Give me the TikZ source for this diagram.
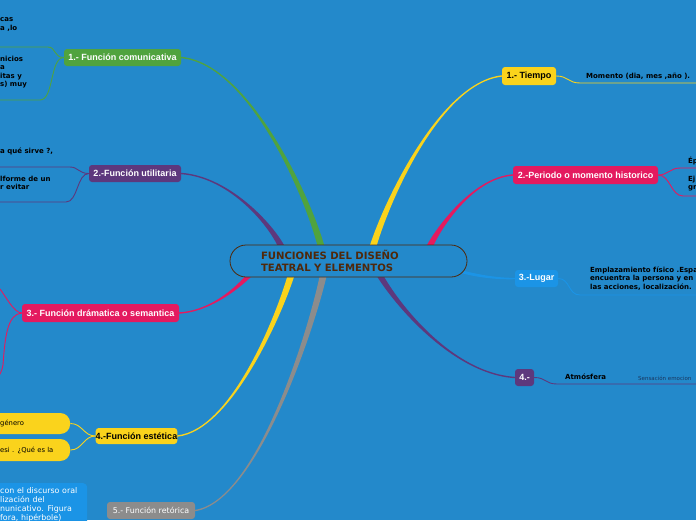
\documentclass[tikz,border=0pt]{standalone}
\usepackage{fontspec}
\setmainfont{DejaVu Sans}
\newfontfamily\lsans{Liberation Sans}
\usetikzlibrary{calc}
\definecolor{bg}{RGB}{35,137,203}
\definecolor{cgreen}{RGB}{80,163,62}
\definecolor{cpurple}{RGB}{93,56,125}
\definecolor{ccrimson}{RGB}{228,26,95}
\definecolor{cyellow}{RGB}{250,211,28}
\definecolor{cgray}{RGB}{140,140,140}
\definecolor{clblue}{RGB}{27,148,230}
\definecolor{cbrown}{RGB}{80,40,10}
\definecolor{cnavy}{RGB}{25,55,95}
\newcommand\taper[6]{\fill[#1] ($(#2)+(-3.5,0)$) .. controls ($(#3)+(-3,0)$) and ($(#4)+(0,#6)$) .. ($(#5)+(0,#6)$) -- ($(#5)-(0,#6)$) .. controls ($(#4)-(0,#6)$) and ($(#3)+(3,0)$) .. ($(#2)+(3.5,0)$) -- cycle;}
\begin{document}
\begin{tikzpicture}[x=1pt,y=-1pt,
  lab/.style={rounded corners=3pt, inner sep=0pt, font=\lsans\bfseries\fontsize{9}{11}\selectfont, text=white},
  ctext/.style={inner sep=0pt, font=\bfseries\fontsize{7}{8.6}\selectfont, align=left, text=black},
  conn/.style={line width=0.9pt},
  pill/.style={fill=cyellow, rounded corners=10pt, inner xsep=12pt, inner ysep=0pt, text width=58pt, align=left, anchor=west, font=\fontsize{6.8}{8}\selectfont, text=black},
]
\useasboundingbox (0,0) rectangle (696,520);
\fill[bg] (0,0) rectangle (696,520);

% main nodes
\node[lab, fill=cgreen, minimum width=117pt, minimum height=17pt] (n1) at (122.5,57.5) {1.- Función comunicativa};
\node[lab, fill=cpurple, minimum width=92pt, minimum height=17pt] (n2) at (135,173.5) {2.-Función utilitaria};
\node[lab, fill=ccrimson, minimum width=157pt, minimum height=18pt] (n3) at (100.5,313) {3.- Función drámatica o semantica};
\node[lab, fill=cyellow, text=black, minimum width=81pt, minimum height=16pt] (n4) at (136.5,436) {4.-Función estética};
\node[lab, fill=cgray, font=\fontsize{7.9}{9}\selectfont, minimum width=88pt, minimum height=17pt] (n5) at (151,510.5) {5.- Función retórica};
\node[lab, fill=cyellow, text=black, minimum width=54pt, minimum height=18pt] (r1) at (529,76) {1.- Tiempo};
\node[lab, fill=ccrimson, minimum width=145pt, minimum height=18pt] (r2) at (585.5,175) {2.-Periodo o momento historico};
\node[lab, fill=clblue, minimum width=43pt, minimum height=17pt] (r3) at (536.5,278.5) {3.-Lugar};
\node[lab, fill=cpurple, minimum width=19pt, minimum height=17pt] (r4) at (524.5,377.5) {4.-};

% children
\node[pill, minimum height=21pt] (p1) at (-12,423.5) {género};
\node[pill, minimum height=22pt] (p2) at (-12,450) {esi . ¿Qué es la};
\node[fill=clblue, rounded corners=4pt, anchor=north west, inner xsep=8pt, inner ysep=4pt, text width=79pt, align=left, text=white, font=\fontsize{7.9}{9}\selectfont] (b5) at (-8,483) {con el discurso oral\\lización del\\nunicativo. Figura\\fora, hipérbole)};

% free ends of child connectors
\coordinate (a1) at (48,47);   \coordinate (a1e) at (-1,47);
\coordinate (a2) at (40,100);  \coordinate (a2e) at (-1,100);
\coordinate (b1) at (70,167);  \coordinate (b1e) at (-1,167);
\coordinate (b2) at (66,202);  \coordinate (b2e) at (-1,202);
\coordinate (c1) at (0,289);
\coordinate (c2) at (3,365);   \coordinate (c2e) at (-1,376);
\coordinate (d1) at (580,83);  \coordinate (d1e) at (697,83);
\coordinate (e1) at (680,168); \coordinate (e1e) at (697,168);
\coordinate (e2) at (683,196); \coordinate (e2e) at (697,196);
\coordinate (f1) at (580,295); \coordinate (f1e) at (697,295);
\coordinate (g1) at (557,384); \coordinate (g1e) at (697,384);

\draw[conn, cgreen] (n1.west) .. controls +(-10,0) and +(8,0) .. (a1) -- (a1e);
\draw[conn, cgreen] (n1.west) .. controls +(-14,0) and +(14,0) .. (a2) -- (a2e);
\draw[conn, cpurple] (n2.west) .. controls +(-10,0) and +(8,0) .. (b1) -- (b1e);
\draw[conn, cpurple] (n2.west) .. controls +(-12,0) and +(12,0) .. (b2) -- (b2e);
\draw[conn, ccrimson] (n3.west) .. controls +(-8,0) and +(5,6) .. (c1);
\draw[conn, ccrimson] (n3.west) .. controls (8,314) and (5,335) .. (c2) .. controls (2,370) and (1,372) .. (c2e);
\draw[conn, cyellow] (n4.west) .. controls +(-12,0) and +(12,0) .. (p1.east);
\draw[conn, cyellow] (n4.west) .. controls +(-12,0) and +(12,0) .. (p2.east);
\draw[conn, cyellow] (r1.east) .. controls +(12,0) and +(-12,0) .. (d1) -- (d1e);
\draw[conn, ccrimson] (r2.east) .. controls +(10,0) and +(-10,0) .. (e1) -- (e1e);
\draw[conn, ccrimson] (r2.east) .. controls +(12,0) and +(-12,0) .. (e2) -- (e2e);
\draw[conn, clblue] (r3.east) .. controls +(12,0) and +(-12,0) .. (f1) -- (f1e);
\draw[conn, cpurple] (r4.east) .. controls +(12,0) and +(-12,0) .. (g1) -- (g1e);

% branch starts (under the central topic)
\coordinate (sG) at (322,250);
\coordinate (sP) at (283,250);
\coordinate (sC) at (252,272);
\coordinate (sY) at (292,272);
\coordinate (sR) at (324,272);
\coordinate (tY) at (372,250);
\coordinate (tC) at (428,250);
\coordinate (tP) at (378,272);
\coordinate (tL) at (455,270);

\taper{cgreen}{sG}{310,201}{250,64}{n1.east}{0.7}
\taper{cpurple}{sP}{274,228}{231,177}{n2.east}{0.7}
\taper{ccrimson}{sC}{246,280}{215,311}{n3.east}{-0.7}
\taper{cyellow}{sY}{282,308}{233,430}{n4.east}{-0.7}
\taper{cgray}{sR}{313,325}{258,501}{n5.east}{-0.7}
\taper{cyellow}{tY}{383,210}{438,83}{r1.west}{-0.7}
\taper{ccrimson}{tC}{435,233}{471,178}{r2.west}{-0.7}
\taper{cpurple}{tP}{390,295}{448,373}{r4.west}{0.7}
\fill[clblue] ($(tL)+(0,-1.5)$) .. controls (480,275.5) and (500,278) .. ($(r3.west)+(0,-0.7)$) -- ($(r3.west)+(0,0.7)$) .. controls (500,279.6) and (480,278.5) .. ($(tL)+(0,1.5)$) -- cycle;

% central topic
\node[draw=cbrown, fill=bg, line width=0.8pt, rounded corners=16pt, minimum width=237pt, minimum height=32pt, inner xsep=31pt, inner ysep=0pt, text width=175pt, align=left, text=cbrown, font=\bfseries\fontsize{10.1}{12}\selectfont] (T) at (348.5,261) {FUNCIONES DEL DISEÑO\\TEATRAL Y ELEMENTOS};

% texts
\node[ctext, anchor=north west] (t1) at (0,17.5) {cas\\a ,lo};
\node[ctext, anchor=north west] (t2) at (0,55.5) {nicios\\a\\itas y\\s) muy};
\node[ctext, anchor=north west] (t3) at (0,147.5) {a qué sirve ?,};
\node[ctext, anchor=north west] (t4) at (0,175.5) {lforme de un\\r evitar};
\node[ctext, anchor=west] (t5) at (586,76) {Momento (dia, mes ,año ).};
\node[ctext, anchor=west] (t6) at (688,161) {Ép};
\node[ctext, anchor=north west] (t7) at (688,175.5) {Ej\\gr};
\node[ctext, anchor=north west] (t8) at (590,266.5) {Emplazamiento físico .Espa\\encuentra la persona y en e\\las acciones, localización.};
\node[ctext, anchor=west] (t9) at (565,377) {Atmósfera};
\node[inner sep=0pt, anchor=west, text=cnavy, font=\fontsize{5.5}{6.5}\selectfont] (t10) at (638,378) {Sensación emocion};
\end{tikzpicture}
\end{document}
